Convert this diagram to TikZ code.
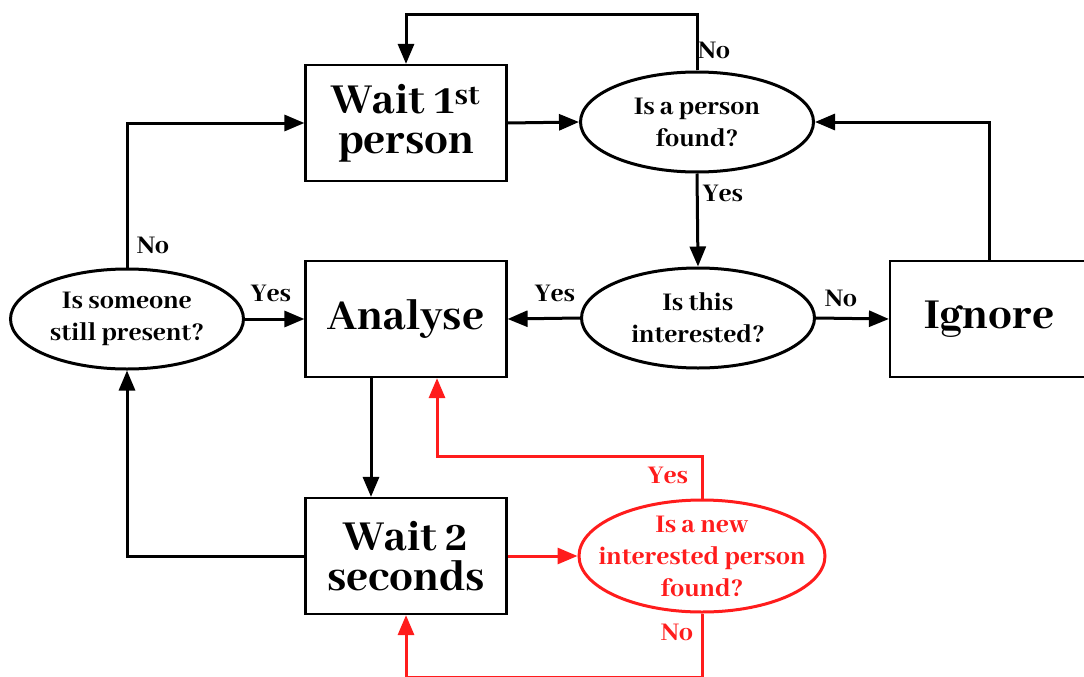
\documentclass[tikz,border=0pt]{standalone}
\usepackage{fontspec}
\setmainfont{Abhaya Libre}[BoldFont={Abhaya Libre ExtraBold}]
\usetikzlibrary{positioning,arrows.meta,calc,shapes.geometric}
\definecolor{alert}{RGB}{255,28,28}

\begin{document}
\begin{tikzpicture}[
    x=1pt, y=-1pt,
    font=\bfseries,
    box/.style={draw, line width=2.2pt, minimum width=201pt, minimum height=116pt,
                align=center, inner sep=2pt,
                font=\bfseries\fontsize{47}{40}\selectfont},
    ask/.style={draw, ellipse, line width=3pt, minimum width=233pt, minimum height=100pt,
                inner sep=0pt, align=center,
                font=\bfseries\fontsize{28}{32}\selectfont},
    arr/.style={-{Triangle[length=20pt,width=16pt]}, line width=3pt},
    rarr/.style={arr, alert},
    lbl/.style={font=\bfseries\fontsize{28}{30}\selectfont},
  ]
  \useasboundingbox (0,0) rectangle (1084,677);

  % --- boxes ---
  \node[box] (wait1) at (406,123) {Wait 1\textsuperscript{st}\\person};
  \node[box] (ana)   at (406,319) {Analyse};
  \node[box] (wait2) at (406,556) {Wait 2\\seconds};
  \node[box, minimum width=198pt] (ign) at (989,319) {Ignore};

  % --- questions ---
  \node[ask] (found) at (697,122) {Is a person\\found?};
  \node[ask] (inter) at (698,318) {Is this\\interested?};
  \node[ask] (still) at (127,319) {Is someone\\still present?};
  \node[ask, alert, minimum width=246pt, minimum height=112pt,
        inner xsep=-30pt, inner ysep=-20pt] (newp) at (702,556)
    {Is a new\\interested person\\found?};

  % --- black flow ---
  \coordinate (noloop) at (406,15);
  \draw[arr] (found.north) |- (noloop) -- (wait1.north);
  \node[lbl] (no1) at (714,50) {No};
  \draw[arr] (wait1.east) -- (found.west);
  \draw[arr] (found.south) -- (inter.north);
  \node[lbl] (yes1) at (723,193) {Yes};
  \draw[arr] (inter.west) -- (ana.east);
  \node[lbl] (yes2) at (555,293) {Yes};
  \draw[arr] (inter.east) -- (ign.west);
  \node[lbl] (no2) at (841,298) {No};
  \draw[arr] (ign.north) |- (found.east);
  \draw[arr] (still.north) |- (wait1.west);
  \node[lbl] (no3) at (153,245) {No};
  \draw[arr] (still.east) -- (ana.west);
  \node[lbl] (yes3) at (271,293) {Yes};
  \draw[arr] ($(ana.south)+(-35,0)$) -- ($(wait2.north)+(-35,0)$);
  \draw[arr] (wait2.west) -| (still.south);

  % --- red flow ---
  \draw[rarr] (wait2.east) -- (newp.west);
  \coordinate (yesturn) at (437,456);
  \draw[rarr] (newp.north) |- (yesturn) -- (yesturn |- ana.south);
  \node[lbl, alert] (yes4) at (668,475) {Yes};
  \coordinate (noturn) at (406,677);
  \draw[rarr] (newp.south) |- (noturn) -- (wait2.south);
  \node[lbl, alert] (no4) at (677,632) {No};
\end{tikzpicture}
\end{document}
